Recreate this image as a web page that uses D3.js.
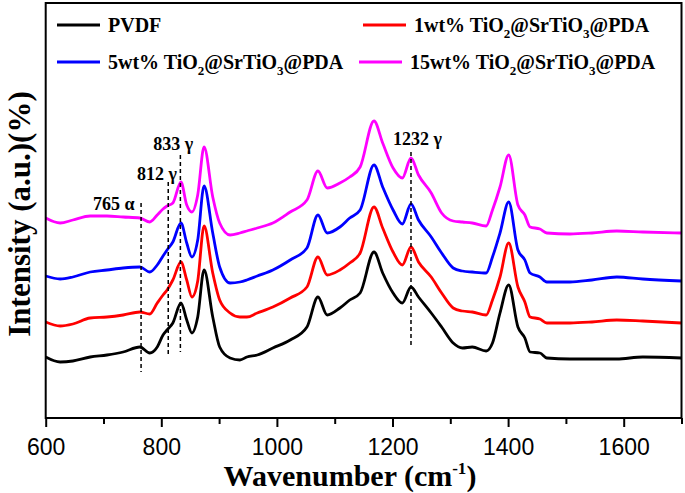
<!DOCTYPE html>
<html>
<head>
<meta charset="utf-8">
<script src="https://cdn.jsdelivr.net/npm/d3@7"></script>
<style>
  html, body { margin: 0; padding: 0; background: #fff; }
  svg { display: block; }
</style>
</head>
<body>
<svg id="chart" width="685" height="493"></svg>
<script>
// ---------------- DATA ----------------
const wavenumbers = [600, 625, 647, 677, 706, 734, 763, 780, 793, 803, 810, 820, 834, 844, 853, 863, 874, 889, 901, 919,
  936, 948, 966, 993, 1023, 1052, 1071, 1087, 1109, 1126, 1144, 1168, 1183, 1201, 1217, 1232, 1245, 1267, 1285, 1305,
  1321, 1338, 1362, 1373, 1386, 1401, 1417, 1429, 1438, 1455, 1467, 1507, 1545, 1588, 1633, 1700];

const pvdf = [61, 56, 57, 61, 63, 66, 71, 65, 71, 83, 88, 95, 115, 98, 85, 101, 148, 101, 71, 60,
  58, 61, 63, 70, 78, 91, 121, 103, 110, 118, 125, 166, 145, 125, 115, 131, 121, 105, 91, 75,
  70, 71, 67, 75, 105, 133, 91, 80, 66, 65, 60, 59, 59, 59, 61, 60];

const wt1 = [96, 92, 94, 100, 101, 103, 106, 104, 115, 123, 128, 138, 156, 138, 121, 137, 192, 145, 118, 105,
  101, 101, 105, 111, 120, 131, 161, 143, 148, 155, 165, 211, 190, 166, 153, 171, 156, 141, 125, 110,
  107, 106, 103, 118, 141, 175, 131, 116, 101, 99, 95, 95, 96, 98, 97, 95];

const wt5 = [142, 139, 141, 146, 148, 150, 151, 146, 153, 162, 168, 176, 195, 175, 161, 178, 232, 185, 151, 135,
  136, 138, 142, 148, 158, 170, 203, 185, 191, 200, 208, 253, 231, 208, 194, 214, 198, 181, 165, 150,
  147, 146, 145, 161, 185, 216, 168, 158, 145, 141, 136, 136, 138, 141, 139, 137];

const wt15 = [200, 195, 198, 202, 202, 201, 200, 196, 203, 209, 212, 215, 236, 213, 206, 223, 271, 221, 195, 183,
  185, 187, 190, 195, 206, 218, 247, 230, 235, 241, 251, 297, 275, 250, 240, 260, 243, 225, 205, 197,
  196, 195, 192, 208, 231, 263, 213, 203, 191, 189, 185, 184, 185, 187, 186, 185];

const seriesNames = ["PVDF", "1wt%", "5wt%", "15wt%"];
const xTickValues = [600, 700, 800, 900, 1000, 1100, 1200, 1300, 1400, 1500, 1600, 1700];
const xTickLabels = ["600", "", "800", "", "1000", "", "1200", "", "1400", "", "1600", ""];

// annotation: peak position, label, dashed line top/bottom (intensity), label start position
const peakPositions = [765, 812, 833, 1232];
const peakLabels = ["765 α", "812 γ", "833 γ", "1232 γ"];
const peakLineTop = [215, 236, 263, 266];
const peakLineBottom = [46, 61, 66, 70];
const peakLabelX = [682, 758, 786, 1201];
const peakLabelY = [208, 238, 268, 273];

// ---------------- CHART ----------------
const svg = d3.select("#chart");
const pLeft = 45.7, pRight = 681.5, pTop = 3, pBottom = 418;
const x = d3.scaleLinear().domain([600, 1700]).range([pLeft, pRight]);
const y = d3.scaleLinear().domain([0, 415]).range([pBottom, pTop]);

const colors = ["#000000", "#ff0000", "#0000ff", "#ff00ff"];
const allSeries = [pvdf, wt1, wt5, wt15];

const line = d3.line()
  .x((d, i) => x(wavenumbers[i]))
  .y(d => y(d))
  .curve(d3.curveMonotoneX);

svg.append("clipPath").attr("id", "clip")
  .append("rect").attr("x", pLeft).attr("y", pTop).attr("width", pRight - pLeft).attr("height", pBottom - pTop);

const g = svg.append("g").attr("clip-path", "url(#clip)");
allSeries.forEach((s, k) => {
  g.append("path")
    .datum(s)
    .attr("d", line)
    .attr("fill", "none")
    .attr("stroke", colors[k])
    .attr("stroke-width", 2.8)
    .attr("stroke-linejoin", "round");
});

// dashed annotation lines
peakPositions.forEach((p, i) => {
  svg.append("line")
    .attr("x1", x(p)).attr("x2", x(p))
    .attr("y1", y(peakLineTop[i])).attr("y2", y(peakLineBottom[i]))
    .attr("stroke", "#000").attr("stroke-width", 1.5)
    .attr("stroke-dasharray", "4,3");
  svg.append("text")
    .attr("x", x(peakLabelX[i])).attr("y", y(peakLabelY[i]))
    .attr("font-family", "'Liberation Serif', 'Times New Roman', serif")
    .attr("font-weight", "bold")
    .attr("font-size", 18)
    .text(peakLabels[i]);
});

// frame
svg.append("rect")
  .attr("x", pLeft).attr("y", pTop)
  .attr("width", pRight - pLeft).attr("height", pBottom - pTop)
  .attr("fill", "none").attr("stroke", "#000").attr("stroke-width", 2);

// x axis ticks
const xAxis = d3.axisBottom(x)
  .tickValues(xTickValues)
  .tickSizeOuter(0)
  .tickSize(0)
  .tickFormat("");
const ax = svg.append("g").attr("transform", `translate(0,${pBottom})`).call(xAxis);
ax.select(".domain").remove();
ax.selectAll(".tick line").remove();
ax.selectAll(".tick text").remove();
ax.selectAll(".tick").append("line")
  .attr("y1", 0)
  .attr("y2", (d, i) => xTickLabels[i] !== "" ? 9 : 6)
  .attr("stroke", "#000").attr("stroke-width", 2);
ax.selectAll(".tick").append("text")
  .attr("y", 37)
  .attr("fill", "#000")
  .attr("text-anchor", "middle")
  .attr("font-family", "'Liberation Sans', Arial, sans-serif")
  .attr("font-size", 23)
  .text((d, i) => xTickLabels[i]);

// x title
const xt = svg.append("text")
  .attr("x", 350).attr("y", 486)
  .attr("text-anchor", "middle")
  .attr("font-family", "'Liberation Serif', 'Times New Roman', serif")
  .attr("font-weight", "bold")
  .attr("font-size", 30);
xt.append("tspan").text("Wavenumber (cm");
xt.append("tspan").attr("font-size", 17).attr("dy", -12).text("-1");
xt.append("tspan").attr("dy", 12).text(")");

// y title
svg.append("text")
  .attr("transform", "translate(30,214) rotate(-90)")
  .attr("text-anchor", "middle")
  .attr("font-family", "'Liberation Serif', 'Times New Roman', serif")
  .attr("font-weight", "bold")
  .attr("font-size", 31)
  .text("Intensity (a.u.)(%)");

// legend
const legendItems = [
  { k: 0, lx: 57, ly: 25, parts: [["PVDF", null]] },
  { k: 1, lx: 363, ly: 25, parts: [["1wt% TiO", null], ["2", "sub"], ["@SrTiO", null], ["3", "sub"], ["@PDA", null]] },
  { k: 2, lx: 57, ly: 62, parts: [["5wt% TiO", null], ["2", "sub"], ["@SrTiO", null], ["3", "sub"], ["@PDA", null]] },
  { k: 3, lx: 359, ly: 62, parts: [["15wt% TiO", null], ["2", "sub"], ["@SrTiO", null], ["3", "sub"], ["@PDA", null]] }
];
legendItems.forEach(it => {
  svg.append("line")
    .attr("x1", it.lx).attr("x2", it.lx + 43)
    .attr("y1", it.ly).attr("y2", it.ly)
    .attr("stroke", colors[it.k]).attr("stroke-width", 3);
  const t = svg.append("text")
    .attr("x", it.lx + 51).attr("y", it.ly + 7)
    .attr("font-family", "'Liberation Serif', 'Times New Roman', serif")
    .attr("font-weight", "bold")
    .attr("font-size", 20);
  let shifted = false;
  it.parts.forEach(([txt, kind]) => {
    const sp = t.append("tspan").text(txt);
    if (kind === "sub") { sp.attr("font-size", 13).attr("dy", 6); shifted = true; }
    else if (shifted) { sp.attr("dy", -6); shifted = false; }
  });
});
</script>
</body>
</html>
